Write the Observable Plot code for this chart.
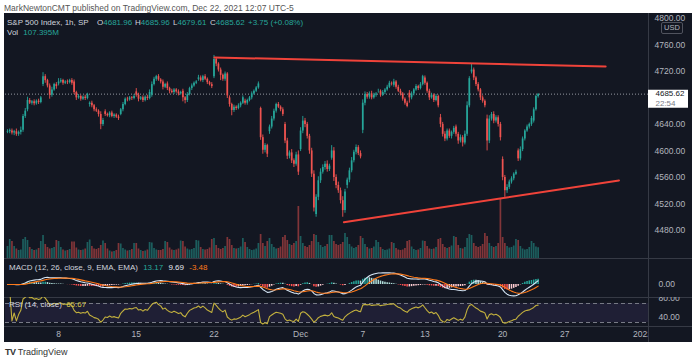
<!DOCTYPE html>
<html><head><meta charset="utf-8">
<script src="https://cdn.jsdelivr.net/npm/d3@7"></script>
<script src="https://cdn.jsdelivr.net/npm/@observablehq/plot@0.6"></script>
<style>
body{margin:0;background:#fff;}
#root{position:relative;width:700px;height:363px;overflow:hidden;font-family:"Liberation Sans",Arial,sans-serif;}
.a{position:absolute;white-space:nowrap;line-height:1;}
#root svg{position:absolute;left:0;top:0;}
</style></head><body><div id="root"></div>
<script>
// ---------- data (1h bars, Nov 2 – Dec 22 2021, regular session) ----------
const dayBars = [2, 7,7,7, 7,7,7,7,7, 7,7,7,7,7, 7,7,7, 4, 7,7, 7,7,7, 7, 7,7,7,7, 7,7,7,7,7, 7,7, 3];
const dayOpens = [4628, 4630,4662,4700, 4701,4704,4670,4659,4655, 4689,4684,4701,4690,4708,
  4712,4680,4675, 4664, 4629,4640, 4602,4504,4589, 4548, 4631,4690,4699,4687,
  4710,4650,4636,4719,4648, 4587,4600, 4645];
const closes = [
  4629,4631,
  4627,4629,4625,4628,4631,4652,4660,
  4676,4672,4674,4671,4675,4673,4680,
  4712,4706,4698,4684,4692,4700,4697,
  4704,4706,4702,4704,4703,4706,4702,
  4688,4680,4682,4678,4681,4679,4685,
  4672,4668,4662,4660,4655,4640,4646,
  4655,4653,4657,4652,4654,4651,4649,
  4662,4670,4678,4677,4680,4679,4682,
  4684,4678,4680,4676,4681,4679,4688,
  4700,4708,4712,4707,4704,4696,4700,
  4694,4690,4688,4692,4689,4686,4688,
  4680,4676,4685,4694,4698,4702,4704,
  4710,4706,4712,4708,4703,4700,4697,
  4738,4731,4722,4714,4708,4716,4683,
  4670,4661,4666,4664,4668,4672,4680,
  4672,4676,4680,4686,4690,4695,4701,
  4620,4601,4608,4595,
  4636,4648,4660,4670,4666,4662,4655,
  4615,4592,4597,4585,4580,4594,4568,
  4630,4645,4640,4622,4600,4565,4514,
  4530,4555,4568,4575,4580,4572,4577,
  4600,4560,4548,4540,4525,4510,4538,
  4556,4570,4585,4598,4605,4596,4591,
  4672,4685,4681,4686,4680,4684,4686,
  4690,4684,4688,4692,4696,4702,4701,
  4704,4696,4690,4686,4678,4672,4667,
  4680,4686,4692,4697,4694,4700,4712,
  4702,4690,4680,4684,4676,4682,4668,
  4640,4625,4618,4630,4622,4628,4634,
  4625,4615,4620,4612,4625,4668,4709,
  4722,4710,4700,4692,4680,4675,4668,
  4615,4648,4655,4645,4650,4640,4620,
  4560,4540,4545,4553,4558,4565,4568,
  4588,4602,4618,4630,4636,4640,4649,
  4662,4681.96,4685.62];
const wickUp = [
  3,2, 3,2,4,2,5,3,4, 5,3,2,3,2,3,2, 6,3,2,3,4,2,3,
  5,3,2,2,3,2,3, 3,2,3,2,2,3,2, 2,3,2,3,2,4,3, 3,2,2,3,2,2,3, 2,3,2,3,2,2,3,
  5,3,2,3,2,3,4, 4,3,2,3,2,3,2, 3,2,3,2,2,3,2, 3,2,3,2,3,2,2, 4,3,2,3,2,2,3,
  6,3,2,3,2,3,2, 3,2,3,2,3,2,3, 3,2,2,3,2,2,3, 2,4,3,2,
  3,4,3,2,3,2,3, 3,4,3,5,3,4,6,
  5,7,4,3,3,4,5, 4,6,5,4,4,5,3, 8,5,4,5,4,6,4, 3,4,5,3,4,3,4,
  5,4,3,3,4,3,2, 3,2,3,2,3,3,2, 4,2,3,3,2,2,3, 4,3,2,3,2,3,2,
  3,2,3,3,2,3,2, 5,3,4,3,3,2,3, 3,3,4,3,5,6,3, 9,3,2,3,2,3,2, 6,5,3,4,3,3,3,
  4,3,4,3,3,2,3, 3,4,3,2,3,2,3, 3,2,0.34];
const wickDn = [
  2,3, 3,4,3,3,4,3,3, 3,2,3,3,2,3,2, 3,4,3,6,3,2,4,
  3,2,3,2,3,2,3, 3,4,2,3,2,3,2, 4,3,3,2,4,8,3, 3,2,3,2,3,2,3, 2,3,2,3,2,3,2,
  3,4,2,3,2,3,2, 3,2,3,2,3,4,2, 3,4,2,3,2,3,2, 6,5,3,2,3,2,2, 3,2,3,2,3,2,3,
  3,4,3,8,3,3,4, 4,8,3,3,2,3,2, 3,3,2,3,2,2,2, 4,6,4,5,
  4,3,3,3,2,3,3, 4,5,4,4,5,3,5,
  3,4,5,4,5,5,6, 4,5,4,3,4,4,3, 3,6,5,4,5,10,4, 5,4,3,3,4,3,3,
  5,4,3,3,3,2,3, 3,3,2,3,2,2,3, 3,3,2,3,3,3,2, 8,3,3,2,3,2,2,
  3,3,4,2,3,2,3, 5,4,4,3,3,4,3, 4,5,3,6,3,3,3, 3,4,3,3,4,3,3, 15,4,3,4,3,4,5,
  5,10,4,3,3,3,2, 4,3,3,3,2,3,3, 3,2,2.35];
const volumes = [ // millions of shares
  120,190,
  170,120,95,80,85,190,210,
  180,110,90,80,85,100,170,
  230,140,110,95,100,110,180,
  170,110,85,75,80,90,165,
  165,105,85,80,85,95,160,
  185,120,95,90,100,130,175,
  150,95,75,65,70,80,150,
  145,100,85,75,80,90,150,
  150,95,80,70,75,85,160,
  155,100,85,80,80,90,170,
  160,105,85,80,85,95,175,
  170,115,95,85,90,100,180,
  175,110,90,85,90,105,190,
  200,130,100,90,100,120,210,
  190,130,100,95,100,115,200,
  160,110,90,80,85,95,150,
  240,150,120,170,
  200,140,110,95,100,115,210,
  230,180,140,130,150,170,520,
  220,150,120,110,130,170,240,
  230,160,130,110,120,140,230,
  230,170,140,130,140,160,250,
  210,140,115,100,110,130,220,
  200,140,110,95,100,115,180,
  160,110,90,80,85,95,160,
  150,100,85,80,85,100,170,
  180,115,90,80,85,100,175,
  170,120,95,90,95,110,190,
  200,140,110,100,110,125,220,
  210,130,100,95,110,200,240,
  230,150,120,110,120,140,250,
  220,150,120,110,120,150,590,
  210,150,120,105,110,125,190,
  180,120,95,85,90,110,170,
  150,115,107.395];
const tickIdx = [23, 58, 93, 132, 160, 188, 223, 251, 286];
const tickLbl = ["8", "15", "22", "Dec", "7", "13", "20", "27", "2022"];
const priceTicks = [4480, 4520, 4560, 4600, 4640, 4720, 4760, 4800];
const macdTicks = [0];
const rsiTicks = [80, 40];
const rsiBand = [30, 70];
const lastPrice = 4685.62;
const upperTrend = [{i: 93.2, p: 4741}, {i: 269.4, p: 4727.3}];
const lowerTrend = [{i: 151.5, p: 4492.5}, {i: 275.4, p: 4555.4}];

// ---------- derived series ----------
const bars = [];
{ let k = 0;
  dayBars.forEach((n, d) => {
    for (let j = 0; j < n; j++, k++) {
      const o = j === 0 ? dayOpens[d] : closes[k - 1], c = closes[k];
      bars.push({i: k, o, c, h: Math.max(o, c) + wickUp[k], l: Math.min(o, c) - wickDn[k], v: volumes[k], up: c >= o});
    }
  });
}
const ema = (arr, n) => { const a = 2 / (n + 1); let e = arr[0]; return arr.map((v, t) => t ? (e = v * a + e * (1 - a)) : e); };
const e12 = ema(closes, 12), e26 = ema(closes, 26);
const macd = e12.map((v, t) => v - e26[t]);
const sig = ema(macd, 9);
const ind = bars.map((b, t) => ({i: t, macd: macd[t], sig: sig[t], hist: macd[t] - sig[t]}));
ind.forEach((d, t) => {
  const prev = t ? ind[t - 1].hist : 0;
  d.hc = d.hist >= 0 ? (d.hist > prev ? "#26a69a" : "#b2dfdb") : (d.hist < prev ? "#ff5252" : "#ffcdd2");
});
{ let ag = 0, al = 0;
  ind.forEach((d, t) => {
    if (!t) { d.rsi = NaN; return; }
    const ch = closes[t] - closes[t - 1], g = Math.max(ch, 0), l = Math.max(-ch, 0);
    if (t <= 14) { ag = (ag * (t - 1) + g) / t; al = (al * (t - 1) + l) / t; }
    else { ag = (ag * 13 + g) / 14; al = (al * 13 + l) / 14; }
    d.rsi = al === 0 ? 100 : 100 - 100 / (1 + ag / al);
  });
}

// ---------- layout ----------
const W = 700, H = 363;
const root = document.getElementById("root");
const X0 = 5, X1 = 648, AX1 = 692;
const xDom = [-0.9, 288.7];
const UP = "#26a69a", DN = "#ef5350", TXT = "#b2b5be", BG = "#131722", SEP = "#363a45";
const FONT = "Liberation Sans, Arial, sans-serif";

function div(css, html) { const d = document.createElement("div"); d.className = "a"; d.style.cssText = css; if (html != null) d.innerHTML = html; root.appendChild(d); return d; }
function layer(x0, x1, y0, y1, opts) {
  const p = Plot.plot(Object.assign({
    width: W, height: H, marginLeft: x0, marginRight: W - x1, marginTop: y0, marginBottom: H - y1,
    style: {background: "transparent", fontFamily: FONT, overflow: "hidden", maxWidth: "none"}
  }, opts));
  root.appendChild(p);
}

// chrome
div("left:4px;top:4px;font-size:8.5px;color:#555;", "MarkNewtonCMT published on TradingView.com, Dec 22, 2021 12:07 UTC-5");
div(`left:4px;top:13px;width:${AX1 - 4}px;height:329px;background:${BG};`);
[258, 297, 326].forEach(y => div(`left:4px;top:${y}px;width:${AX1 - 4}px;height:1px;background:${SEP};`));
div(`left:${X1}px;top:13px;width:1px;height:329px;background:${SEP};`);

// volume (own scale)
layer(X0, X1, 14, 258, {
  x: {domain: xDom, axis: null}, y: {domain: [0, 2440], axis: null}, color: {type: "identity"},
  marks: [Plot.ruleX(bars, {x: "i", y1: 0, y2: "v", stroke: d => d.up ? UP : DN, strokeOpacity: 0.5, strokeWidth: 1.7})]
});
// price pane
const yPrice = {domain: [4437.8, 4805.7], axis: null};
layer(X0, X1, 14, 258, {
  x: {domain: xDom, axis: null}, y: yPrice, color: {type: "identity"},
  marks: [
    Plot.ruleY([lastPrice], {stroke: "#9598a1", strokeDasharray: "1,2", strokeWidth: 1}),
    Plot.ruleX(bars, {x: "i", y1: "l", y2: "h", stroke: d => d.up ? UP : DN, strokeWidth: 0.9}),
    Plot.ruleX(bars, {x: "i", y1: "o", y2: "c", stroke: d => d.up ? UP : DN, strokeWidth: 1.7}),
    Plot.line(upperTrend, {x: "i", y: "p", stroke: "#f0433a", strokeWidth: 2}),
    Plot.line(lowerTrend, {x: "i", y: "p", stroke: "#f0433a", strokeWidth: 2})
  ]
});
// price axis column
layer(X1, AX1, 14, 258, {
  y: yPrice,
  marks: [
    Plot.text(priceTicks, {y: d => d, text: d => d.toFixed(2), frameAnchor: "left", dx: 6, textAnchor: "start", fill: TXT, fontSize: 8.5, clip: true}),
    Plot.ruleY([lastPrice], {stroke: "#ffffff", strokeWidth: 18, dy: 4.5, insetRight: 4}),
    Plot.text([lastPrice], {y: d => d, text: d => d.toFixed(2), frameAnchor: "left", dx: 7, dy: -0.5, textAnchor: "start", fill: "#131722", fontSize: 8}),
    Plot.text([lastPrice], {y: d => d, text: () => "22:54", frameAnchor: "left", dx: 7, dy: 9.5, textAnchor: "start", fill: "#787b86", fontSize: 8})
  ]
});
div(`left:661px;top:22px;padding:1px 2px;font-size:7.5px;color:${TXT};background:${BG};border:1px solid #50535e;border-radius:2px;`, "USD");

// MACD pane
const yMacd = {domain: [-32.5, 65], axis: null};
layer(X0, X1, 258, 297, {
  x: {domain: xDom, axis: null}, y: yMacd, color: {type: "identity"},
  marks: [
    Plot.ruleX(ind, {x: "i", y1: 0, y2: "hist", stroke: "hc", strokeWidth: 1.5, clip: true}),
    Plot.line(ind, {x: "i", y: "macd", stroke: "#d6e6f5", strokeWidth: 1.1, clip: true}),
    Plot.line(ind, {x: "i", y: "sig", stroke: "#ff7a1a", strokeWidth: 1.1, clip: true})
  ]
});
layer(X1, AX1, 258, 297, {
  y: yMacd,
  marks: [Plot.text(macdTicks, {y: d => d, text: d => d.toFixed(2), frameAnchor: "left", dx: 10, textAnchor: "start", fill: TXT, fontSize: 8.5, clip: true})]
});

// RSI pane
const yRsi = {domain: [21.6, 82.6], axis: null};
layer(X0, X1, 297, 326, {
  x: {domain: xDom, axis: null}, y: yRsi,
  marks: [
    Plot.rect([rsiBand], {x1: xDom[0], x2: xDom[1], y1: d => d[0], y2: d => d[1], fill: "#7e57c2", fillOpacity: 0.12}),
    Plot.ruleY(rsiBand, {stroke: "#787b86", strokeDasharray: "4,3", strokeWidth: 1}),
    Plot.line(ind, {x: "i", y: "rsi", stroke: "#c2b03e", strokeWidth: 1.1, clip: true})
  ]
});
layer(X1, AX1, 297, 326, {
  y: yRsi,
  marks: [Plot.text(rsiTicks, {y: d => d, text: d => d.toFixed(2), frameAnchor: "left", dx: 10, textAnchor: "start", fill: TXT, fontSize: 8.5, clip: true})]
});

// time axis
layer(X0, X1, 326, 342, {
  x: {domain: xDom, axis: null},
  marks: [Plot.text(tickIdx, {x: d => d, text: (d, j) => tickLbl[j], frameAnchor: "middle", fill: TXT, fontSize: 8.5, clip: true})]
});

// legends
const T = "#d1d4dc", G = "#26a69a", FS = "font-size:8px;";
div(`left:7px;top:19px;${FS}color:${T};`, "S&amp;P 500 Index, 1h, SP");
div(`left:97px;top:19px;${FS}color:${T};`, `O<span style="color:${G}">4681.96</span>`);
div(`left:135px;top:19px;${FS}color:${T};`, `H<span style="color:${G}">4685.96</span>`);
div(`left:173px;top:19px;${FS}color:${T};`, `L<span style="color:${G}">4679.61</span>`);
div(`left:210px;top:19px;${FS}color:${T};`, `C<span style="color:${G}">4685.62</span>`);
div(`left:248px;top:19px;${FS}color:${G};`, "+3.75 (+0.08%)");
div(`left:7px;top:29px;${FS}color:${T};`, `Vol <span style="color:${G};margin-left:3px">107.395M</span>`);
div(`left:9px;top:264px;${FS}color:${T};`, `MACD (12, 26, close, 9, EMA, EMA) <span style="color:${G};margin-left:3px">13.17</span> <span style="color:#e8eaf0;margin-left:3px">9.69</span> <span style="color:#ff7a1a;margin-left:3px">-3.48</span>`);
div(`left:9px;top:301px;${FS}color:${T};`, `RSI (14, close) <span style="color:#d8c64a;margin-left:2px">65.67</span>`);
div("left:5px;top:348px;font-size:9px;color:#333;", `<b style="font-size:9px;letter-spacing:-0.5px">TV</b> TradingView`);
</script></body></html>
